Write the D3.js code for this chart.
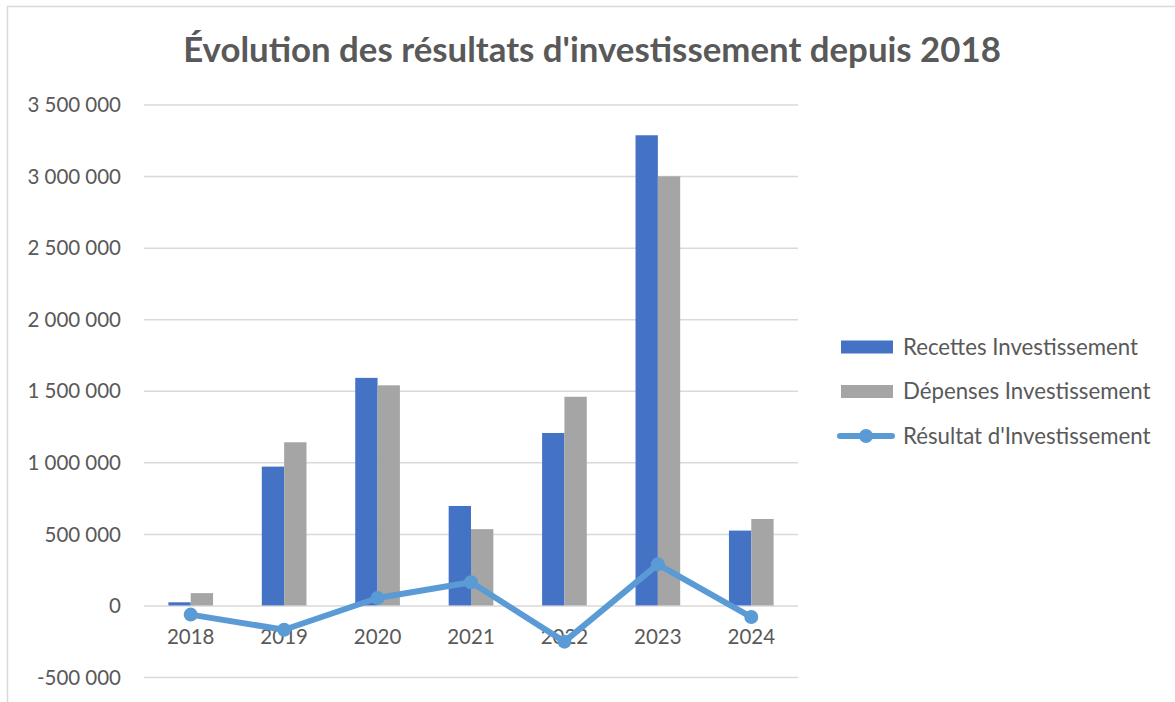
<!DOCTYPE html>
<html>
<head>
<meta charset="utf-8">
<script src="https://cdn.jsdelivr.net/npm/d3@7"></script>
<style>
  html, body { margin: 0; padding: 0; background: #fff; }
  svg { display: block; }
  text { font-family: Lato, "Open Sans", "Noto Sans", sans-serif; }
</style>
</head>
<body>
<svg id="chart" width="1175" height="702"></svg>
<script>
// ---- data ----
const years = ["2018", "2019", "2020", "2021", "2022", "2023", "2024"];
const recettes = [22000, 970000, 1590000, 695000, 1205000, 3285000, 523000];
const depenses = [86000, 1140000, 1538000, 533000, 1458000, 2998000, 604000];
const resultat = [-64000, -170000, 52000, 162000, -253000, 287000, -81000];
const yTicks = [-500000, 0, 500000, 1000000, 1500000, 2000000, 2500000, 3000000, 3500000];
const seriesNames = ["Recettes Investissement", "Dépenses Investissement", "Résultat d'Investissement"];
const titleText = "Évolution des résultats d'investissement depuis 2018";

// ---- layout ----
const W = 1175, H = 702;
const plot = { left: 144, right: 798, top: 104.5, bottom: 677 };
const colors = { rec: "#4472C4", dep: "#A5A5A5", res: "#5B9BD5", grid: "#D9D9D9", text: "#595959" };

const svg = d3.select("#chart");
svg.append("rect").attr("width", W).attr("height", H).attr("fill", "#fff");
svg.append("rect").attr("x", 7.5).attr("y", 6.5).attr("width", 1200).attr("height", 720)
  .attr("fill", "none").attr("stroke", colors.grid).attr("stroke-width", 1.5);

const x = d3.scaleBand().domain(years).range([plot.left, plot.right])
  .paddingInner(0.522).paddingOuter(0.261);
const xs = d3.scaleBand().domain(["rec", "dep"]).range([0, x.bandwidth()]).padding(0);
const y = d3.scaleLinear().domain([-500000, 3500000]).range([plot.bottom, plot.top]);

const fmt = v => {
  const s = d3.format(",")(Math.abs(v)).replace(/,/g, "\u202F");
  return (v < 0 ? "-" : "") + s;
};

// gridlines
const yAxisGrid = d3.axisLeft(y).tickValues(yTicks).tickSize(-(plot.right - plot.left)).tickFormat("");
const gGrid = svg.append("g").attr("transform", `translate(${plot.left},0)`).call(yAxisGrid);
gGrid.select(".domain").remove();
gGrid.selectAll("line").attr("stroke", colors.grid).attr("stroke-width", 1.5);

// y labels
const yAxis = d3.axisLeft(y).tickValues(yTicks).tickSize(0).tickPadding(0).tickFormat(fmt);
const gY = svg.append("g").attr("transform", `translate(121,0)`).call(yAxis);
gY.select(".domain").remove();
gY.selectAll("text").attr("fill", colors.text).style("font-size", "20.5px")
  .style("font-family", "Lato, 'Open Sans', sans-serif").attr("dy", "0.35em");

// bars
const data = years.map((yr, i) => ({ yr, rec: recettes[i], dep: depenses[i] }));
const groups = svg.append("g").selectAll("g").data(data).join("g")
  .attr("transform", d => `translate(${x(d.yr)},0)`);
groups.selectAll("rect").data(d => ["rec", "dep"].map(k => ({ k, v: d[k] }))).join("rect")
  .attr("x", d => xs(d.k))
  .attr("width", xs.bandwidth())
  .attr("y", d => y(Math.max(0, d.v)))
  .attr("height", d => Math.abs(y(d.v) - y(0)))
  .attr("fill", d => colors[d.k]);

// x labels
const xAxis = d3.axisBottom(x).tickSize(0).tickPadding(0);
const gX = svg.append("g").attr("transform", `translate(0,${y(0)})`).call(xAxis);
gX.select(".domain").remove();
gX.selectAll("text").attr("fill", colors.text).style("font-size", "20.5px")
  .style("font-family", "Lato, 'Open Sans', sans-serif").attr("y", 39).attr("dy", 0);

// line
const cx = yr => x(yr) + x.bandwidth() / 2;
const line = d3.line().x((d, i) => cx(years[i])).y(d => y(d));
svg.append("path").datum(resultat).attr("d", line)
  .attr("fill", "none").attr("stroke", colors.res).attr("stroke-width", 6)
  .attr("stroke-linejoin", "round").attr("stroke-linecap", "round");
svg.append("g").selectAll("circle").data(resultat).join("circle")
  .attr("cx", (d, i) => cx(years[i])).attr("cy", d => y(d)).attr("r", 7)
  .attr("fill", colors.res);

// title
const title = svg.append("text").attr("x", 592).attr("y", 62).attr("text-anchor", "middle")
  .attr("fill", colors.text).style("font-weight", "bold").style("font-size", "32px")
  .text(titleText);
{
  const w = title.node().getComputedTextLength();
  const fs = 32 * 818 / w;
  title.style("font-size", fs + "px");
}

// legend
const legY = [347, 391.5, 436];
const leg = svg.append("g");
const legText = [];
seriesNames.forEach((name, i) => {
  if (i < 2) {
    leg.append("rect").attr("x", 841).attr("y", legY[i] - 6.5).attr("width", 52).attr("height", 13)
      .attr("fill", i === 0 ? colors.rec : colors.dep);
  } else {
    leg.append("line").attr("x1", 840).attr("x2", 892).attr("y1", legY[i]).attr("y2", legY[i])
      .attr("stroke", colors.res).attr("stroke-width", 6).attr("stroke-linecap", "round");
    leg.append("circle").attr("cx", 866).attr("cy", legY[i]).attr("r", 7).attr("fill", colors.res);
  }
  legText.push(leg.append("text").attr("x", 903).attr("y", legY[i]).attr("dy", "0.35em")
    .attr("fill", colors.text).style("font-size", "19.5px").text(name));
});
{
  const w = legText[0].node().getComputedTextLength();
  const fs = 19.5 * 235 / w;
  legText.forEach(t => t.style("font-size", fs + "px"));
}
</script>
</body>
</html>
